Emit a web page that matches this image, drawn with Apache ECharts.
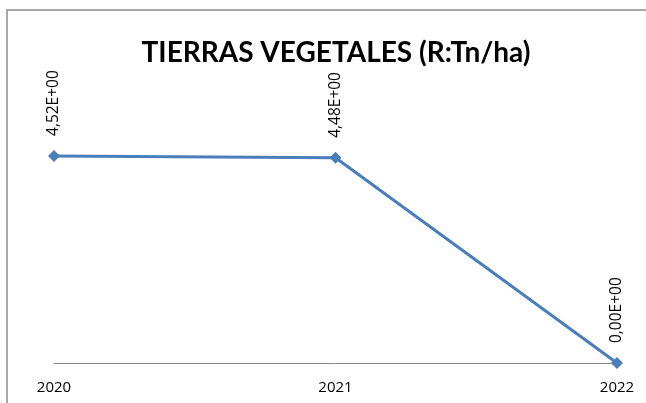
<!DOCTYPE html>
<html>
<head>
<meta charset="utf-8">
<script src="https://cdn.jsdelivr.net/npm/echarts@6/dist/echarts.min.js"></script>
<style>
html,body{margin:0;padding:0;background:#fff;}
#chart{width:646px;height:403px;}
</style>
</head>
<body>
<div id="chart"></div>
<script>
var years = ['2020', '2021', '2022'];
var values = [4.52, 4.48, 0];
var labels = ['4,52E+00', '4,48E+00', '0,00E+00'];

var chart = echarts.init(document.getElementById('chart'));
chart.setOption({
    animation: false,
    title: {
        text: 'TIERRAS VEGETALES (R:Tn/ha)',
        left: 331,
        textAlign: 'center',
        top: 34,
        textStyle: {fontFamily: 'Lato', fontWeight: 'bold', fontSize: 28, color: '#000'}
    },
    graphic: [{
        type: 'rect',
        shape: {x: 7, y: 10, width: 700, height: 500},
        style: {fill: 'none', stroke: '#8c8c8c', lineWidth: 1.5},
        silent: true
    }],
    grid: {left: 54, right: 29, top: 134, bottom: 40},
    xAxis: {
        type: 'category',
        data: years,
        boundaryGap: false,
        axisLine: {lineStyle: {color: '#868686', width: 1}},
        axisTick: {show: false},
        axisLabel: {color: '#000', fontSize: 15, fontFamily: 'Open Sans', margin: 17}
    },
    yAxis: {
        type: 'value',
        min: 0,
        max: 5,
        show: false
    },
    series: [{
        type: 'line',
        data: values,
        symbol: 'diamond',
        symbolSize: 12,
        lineStyle: {color: '#4a7ebb', width: 3},
        itemStyle: {color: '#4a7ebb'},
        label: {
            show: true,
            position: 'top',
            rotate: 90,
            align: 'left',
            verticalAlign: 'middle',
            distance: 14,
            fontFamily: 'Open Sans',
            fontSize: 15.5,
            color: '#000',
            formatter: function (p) { return labels[p.dataIndex]; }
        }
    }]
});
</script>
</body>
</html>
